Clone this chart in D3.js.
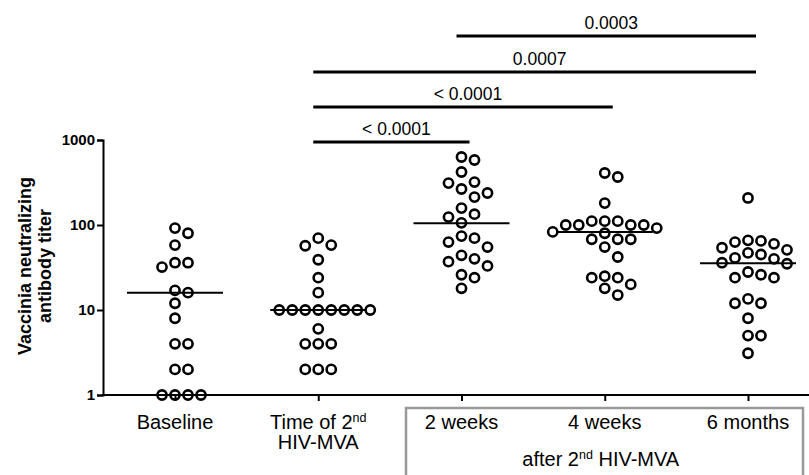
<!DOCTYPE html>
<html>
<head>
<meta charset="utf-8">
<script src="https://cdn.jsdelivr.net/npm/d3@7"></script>
<style>
  body { margin: 0; background: #fff; }
  svg { display: block; font-family: "Liberation Sans", Arial, sans-serif; }
</style>
</head>
<body>
<svg id="chart" width="809" height="475"></svg>
<script>
// groups on the x axis
const categories = ["Baseline", "Time of 2nd", "2 weeks", "4 weeks", "6 months"];

// titers per group
const baseline = [92, 80, 58, 36, 32, 36, 17, 16, 12, 8, 4, 4, 2, 2, 1, 1, 1, 1];
const timeOf2nd = [70, 58, 57, 39, 24, 16, 10, 10, 10, 10, 10, 10, 10, 10, 6, 4, 4, 4, 2, 2, 2];
const weeks2 = [631, 582, 420, 320, 311, 265, 238, 213, 158, 134, 124, 106, 74, 70, 63, 55, 44, 40, 37, 33, 26, 24, 18];
const weeks4 = [409, 367, 181, 111, 111, 111, 100, 100, 100, 100, 92, 83, 80, 68, 68, 68, 55, 42, 25, 24, 24, 20, 18, 15];
const months6 = [208, 66, 65, 63, 60, 54, 51, 47, 45, 41, 40, 36, 35, 28, 26, 24, 24, 13.5, 12, 12, 8, 5, 5, 3.1];
const medians = [16, 10, 105, 83, 35.5];

// significance bars (category index from / to) and p-values
const compFrom = [1, 1, 1, 2];
const compTo = [2, 3, 4, 4];
const compLabels = ["< 0.0001", "< 0.0001", "0.0007", "0.0003"];

const yTicks = [1, 10, 100, 1000];

const groups = [baseline, timeOf2nd, weeks2, weeks4, months6];

const svg = d3.select("#chart");
const axisLeftX = 103, axisBottomY = 395;

const x = d3.scalePoint().domain(categories).range([175, 748]);
const y = d3.scaleLog().domain([1, 1000]).range([axisBottomY, 140]);

const R = 4.6, D = 13;

// simple column-scatter placement: points spread sideways in steps of one diameter
function dodge(values) {
  const pts = values.map(v => ({ v: v, py: y(v) })).sort((a, b) => a.py - b.py);
  const placed = [];
  pts.forEach(function(p) {
    for (let k = 0; ; k++) {
      const off = k === 0 ? 0 : (k % 2 ? (k + 1) / 2 : -k / 2);
      const dx = off * D;
      const ok = placed.every(q => Math.hypot(q.dx - dx, q.py - p.py) >= D * 0.87);
      if (ok) { p.dx = dx; placed.push(p); break; }
    }
  });
  return placed;
}

// y axis
const yAxis = svg.append("g")
  .attr("transform", `translate(${axisLeftX},0)`)
  .call(d3.axisLeft(y).tickValues(yTicks).tickFormat(d3.format("d")).tickSizeOuter(0).tickSize(6));
yAxis.select(".domain").attr("stroke-width", 2);
yAxis.selectAll(".tick line").attr("stroke-width", 2);
yAxis.selectAll(".tick text")
  .attr("font-family", "Liberation Sans, Arial, sans-serif")
  .attr("font-size", 15).attr("font-weight", "bold").attr("fill", "#000").attr("dx", "1");

// x axis
const xAxis = svg.append("g")
  .attr("transform", `translate(0,${axisBottomY})`)
  .call(d3.axisBottom(x).tickSize(6).tickFormat(""));
xAxis.select(".domain").remove();
xAxis.selectAll(".tick line").attr("stroke-width", 2);
svg.append("line")
  .attr("x1", axisLeftX - 1).attr("x2", 809)
  .attr("y1", axisBottomY).attr("y2", axisBottomY)
  .attr("stroke", "#000").attr("stroke-width", 2);

// y axis title
const yTitle = svg.append("text")
  .attr("transform", "translate(31,266) rotate(-90)")
  .attr("text-anchor", "middle")
  .attr("font-size", 18).attr("font-weight", "bold");
yTitle.append("tspan").attr("x", 0).attr("y", 0).text("Vaccinia neutralizing");
yTitle.append("tspan").attr("x", 0).attr("y", 20).text("antibody titer");

// x labels
const labelSize = 20;
[0, 2, 3, 4].forEach(function(i) {
  svg.append("text")
    .attr("x", x(categories[i])).attr("y", 429)
    .attr("text-anchor", "middle").attr("font-size", labelSize)
    .text(categories[i]);
});
const t2 = svg.append("text")
  .attr("x", x(categories[1])).attr("y", 429)
  .attr("text-anchor", "middle").attr("font-size", labelSize);
t2.append("tspan").text("Time of 2");
t2.append("tspan").attr("font-size", 12.5).attr("dy", -7).text("nd");
svg.append("text")
  .attr("x", x(categories[1])).attr("y", 449)
  .attr("text-anchor", "middle").attr("font-size", labelSize)
  .text("HIV-MVA");

// box around the post-boost groups
svg.append("rect")
  .attr("x", 406).attr("y", 408).attr("width", 397).attr("height", 80)
  .attr("fill", "none").attr("stroke", "#999").attr("stroke-width", 2.5);
const after = svg.append("text")
  .attr("x", x(categories[3]) - 4).attr("y", 466)
  .attr("text-anchor", "middle").attr("font-size", labelSize);
after.append("tspan").text("after 2");
after.append("tspan").attr("font-size", 12.5).attr("dy", -7).text("nd");
after.append("tspan").attr("dy", 7).text(" HIV-MVA");

// median lines
svg.append("g").selectAll("line")
  .data(medians)
  .join("line")
  .attr("x1", (d, i) => x(categories[i]) - 48)
  .attr("x2", (d, i) => x(categories[i]) + 48)
  .attr("y1", d => y(d)).attr("y2", d => y(d))
  .attr("stroke", "#000").attr("stroke-width", 2);

// points
groups.forEach(function(vals, i) {
  const cx = x(categories[i]);
  svg.append("g").selectAll("circle")
    .data(dodge(vals))
    .join("circle")
    .attr("cx", d => cx + d.dx)
    .attr("cy", d => d.py)
    .attr("r", R)
    .attr("fill", "none")
    .attr("stroke", "#000")
    .attr("stroke-width", 2.6);
});

// significance bars
const barY = [142, 107, 72, 36];
compLabels.forEach(function(lab, i) {
  const x1 = x(categories[compFrom[i]]) - 5;
  const x2 = x(categories[compTo[i]]) + 8;
  svg.append("line")
    .attr("x1", x1).attr("x2", x2)
    .attr("y1", barY[i]).attr("y2", barY[i])
    .attr("stroke", "#000").attr("stroke-width", 3);
  svg.append("text")
    .attr("x", (x1 + x2) / 2 + 5).attr("y", barY[i] - 7)
    .attr("text-anchor", "middle").attr("font-size", 17.5)
    .text(lab);
});
</script>
</body>
</html>
